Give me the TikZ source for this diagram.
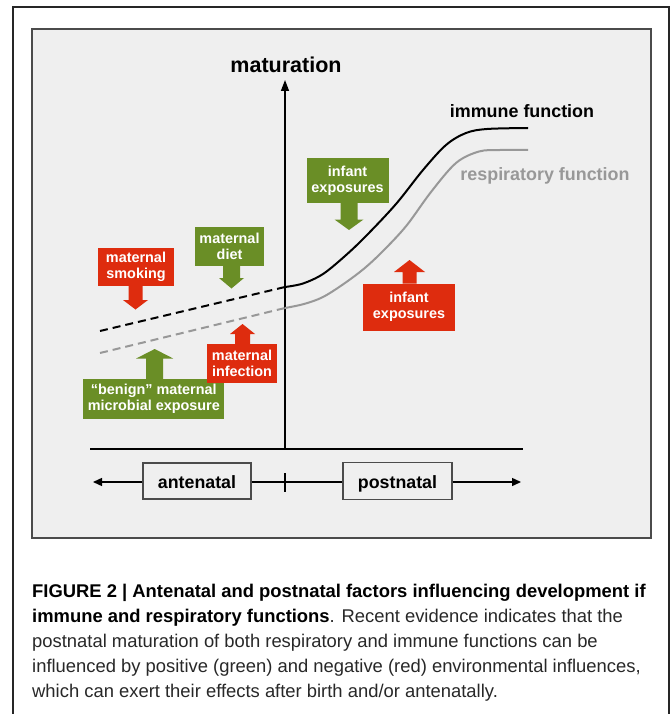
\documentclass[tikz,border=0pt]{standalone}
\usepackage{fontspec}
\setmainfont{Liberation Sans}
\usetikzlibrary{arrows.meta}
\definecolor{fred}{RGB}{222,44,14}
\definecolor{fgreen}{RGB}{106,142,38}
\definecolor{bggray}{RGB}{239,239,239}
\definecolor{frameg}{RGB}{75,75,75}
\definecolor{curvegray}{RGB}{152,152,152}
\definecolor{capgray}{RGB}{40,40,40}
% block arrow: x, y at box, y of head base, y of tip, stem width, head width, colour
\newcommand{\blkarrow}[7]{\fill[#7] (#1-#5/2,#2) -- (#1+#5/2,#2) -- (#1+#5/2,#3) -- (#1+#6/2,#3) -- (#1,#4) -- (#1-#6/2,#3) -- (#1-#5/2,#3) -- cycle;}
\tikzset{
  factor/.style={inner sep=0pt, text=white, align=center,
    font=\bfseries\fontsize{14.4}{15.8}\selectfont},
  redbox/.style={factor, fill=fred},
  greenbox/.style={factor, fill=fgreen},
  periodbox/.style={draw=frameg, line width=1.3pt, fill=bggray, inner sep=0pt,
    text height=15pt, text depth=1pt,
    font=\bfseries\fontsize{17.8}{20}\selectfont},
  axisline/.style={line width=1.4pt, black},
  captxt/.style={anchor=base west, inner sep=0pt, text=capgray,
    font=\fontsize{18.4}{25}\selectfont},
  curvelab/.style={inner sep=0pt, font=\bfseries\fontsize{17.9}{20}\selectfont}
}
\begin{document}
\begin{tikzpicture}[x=1pt,y=-1pt]
\useasboundingbox (0,0) rectangle (671,714);
\fill[white] (0,0) rectangle (671,714);
% outer frame
\draw[line width=1.3pt, black!85] (13,714) -- (13,7) -- (669,7) -- (669,714);
% inner panel
\draw[line width=1.6pt, draw=frameg, fill=bggray] (32,29) rectangle (651,538);

% axes
\coordinate (axbot) at (285,449);
\coordinate (axtop) at (285,80);
\coordinate (bl) at (90,449);
\coordinate (br) at (523,449);
\draw[axisline] (bl) -- (br);
\draw[axisline, -{Triangle[length=11pt,width=8pt]}] (axbot) -- (axtop);
\node[inner sep=0pt, font=\bfseries\fontsize{21.5}{24}\selectfont] (mat) at (286,65) {maturation};

% curves
\draw[line width=2pt, black, dash pattern=on 8pt off 5pt] (100,331) -- (285,287);
\draw[line width=2pt, curvegray, dash pattern=on 8pt off 5pt] (100,353) -- (285,308);
\draw[line width=2pt, black] plot[smooth, tension=0.55] coordinates {(285,287) (303,283.5) (323,274) (345,256) (366,236) (396,204) (423,170) (446,145) (466,133) (487,129) (528,128)};
\draw[line width=2pt, curvegray] plot[smooth, tension=0.55] coordinates {(285,308) (304,304) (323,297) (345,283) (366,267) (386,248) (407,225) (431,192) (456,163) (479,151.5) (500,150) (528,150)};
\node[curvelab] (immune) at (522,111) {immune function};
\node[curvelab, text=curvegray] (resp) at (545,176) {respiratory function};

% factor boxes and block arrows
\node[redbox, minimum width=76pt, minimum height=38pt] (smoke) at (136,267) {maternal\\smoking};
\blkarrow{135.5}{285.5}{300}{309.5}{14}{25}{fred}
\node[greenbox, minimum width=69pt, minimum height=39pt] (diet) at (229.5,246.5) {maternal\\diet};
\blkarrow{231.5}{265.5}{278}{288.5}{17}{25}{fgreen}
\node[greenbox, minimum width=141pt, minimum height=40pt] (benign) at (153.8,399) {“benign” maternal\\microbial exposure};
\blkarrow{154.7}{379.5}{358.5}{349}{17}{37}{fgreen}
\node[redbox, minimum width=70pt, minimum height=39pt] (infect) at (242,363.5) {maternal\\infection};
\blkarrow{242.5}{344.5}{334}{324}{15}{25}{fred}
\node[greenbox, minimum width=82pt, minimum height=45pt] (infg) at (347.5,180.8) {infant\\exposures};
\blkarrow{349}{203}{219.5}{230}{17}{29}{fgreen}
\node[redbox, minimum width=92pt, minimum height=47pt] (infr) at (409,307) {infant\\exposures};
\blkarrow{409.5}{283.5}{272}{260}{14}{31}{fred}

% timeline
\coordinate (tl) at (93,482);
\coordinate (tr) at (521,482);
\coordinate (tickt) at (285,473);
\coordinate (tickb) at (285,492);
\node[periodbox, minimum width=108pt, minimum height=36pt] (ante) at (197,481) {antenatal};
\node[periodbox, minimum width=109pt, minimum height=37pt] (post) at (397.5,481) {postnatal};
\draw[axisline, -{Triangle[length=9pt,width=8pt]}] (ante.west |- tl) -- (tl);
\draw[axisline] (ante.east |- tl) -- (post.west |- tl);
\draw[axisline, -{Triangle[length=9pt,width=8pt]}] (post.east |- tr) -- (tr);
\draw[axisline] (tickt) -- (tickb);

% caption
\node[captxt, text=black] (cap1) at (32,597) {\bfseries FIGURE 2 | Antenatal and postnatal factors influencing development if};
\node[captxt] (cap2) at (32,622) {\textbf{\color{black}immune and respiratory functions}. Recent evidence indicates that the};
\node[captxt] (cap3) at (32,647) {postnatal maturation of both respiratory and immune functions can be};
\node[captxt] (cap4) at (32,672) {influenced by positive (green) and negative (red) environmental influences,};
\node[captxt] (cap5) at (32,697) {which can exert their effects after birth and/or antenatally.};
\end{tikzpicture}
\end{document}
